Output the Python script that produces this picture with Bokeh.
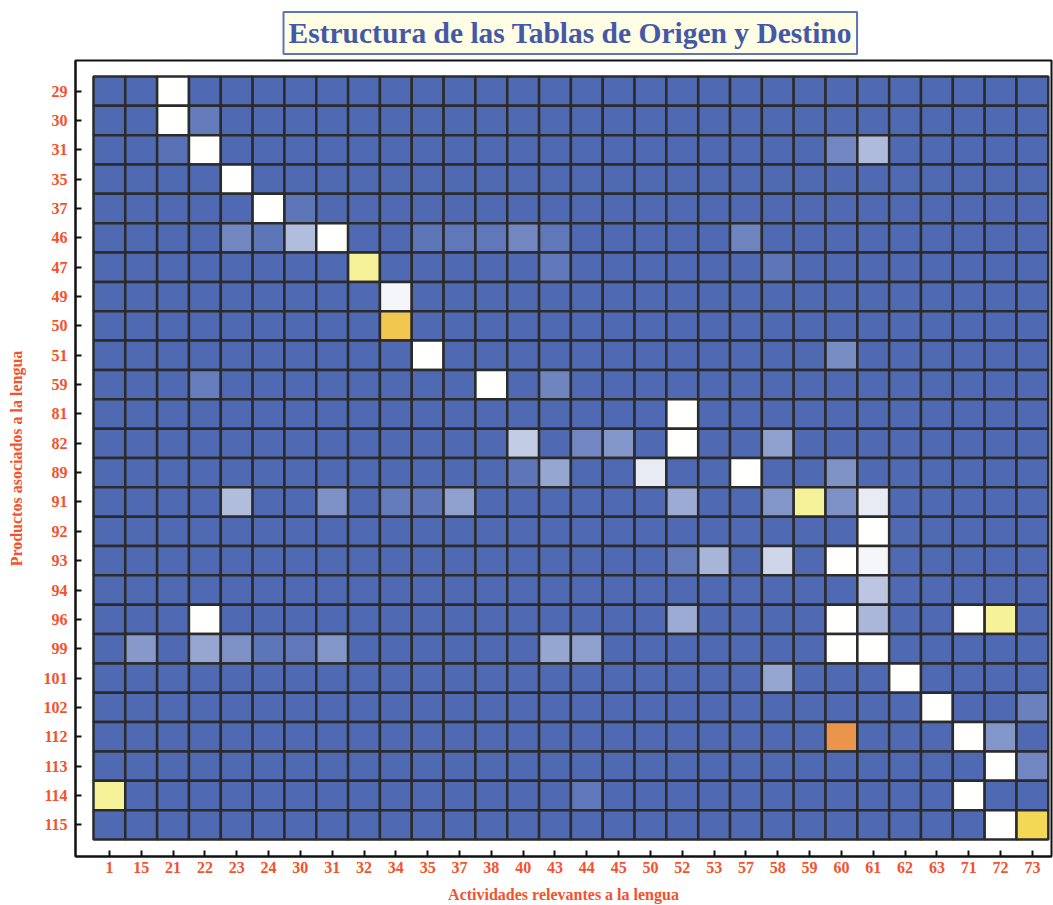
from bokeh.plotting import figure
from bokeh.models import (ColumnDataSource, LinearColorMapper, FixedTicker, Range1d, Title)
from bokeh.embed import file_html
from bokeh.resources import INLINE

# ---- data -------------------------------------------------------------
activities = ["1", "15", "21", "22", "23", "24", "30", "31", "32", "34", "35", "37", "38", "40",
              "43", "44", "45", "50", "52", "53", "57", "58", "59", "60", "61", "62", "63", "71", "72", "73"]
products = ["29", "30", "31", "35", "37", "46", "47", "49", "50", "51", "59", "81", "82", "89",
            "91", "92", "93", "94", "96", "99", "101", "102", "112", "113", "114", "115"]

# relative intensity of the non-background cells (product, activity, value 0..1)
cell_product = ["29", "30", "30", "31", "31", "31", "31", "35", "37", "37",
                "46", "46", "46", "46", "46", "46", "46", "46", "46", "46",
                "47", "47", "47", "49", "50", "51", "51", "59", "59", "59",
                "81", "82", "82", "82", "82", "82", "89", "89", "89", "89", "89",
                "91", "91", "91", "91", "91", "91", "91", "91", "91", "91",
                "92", "93", "93", "93", "93", "93", "94",
                "96", "96", "96", "96", "96", "96",
                "99", "99", "99", "99", "99", "99", "99", "99", "99", "99",
                "101", "101", "102", "102", "112", "112", "112", "113", "113",
                "114", "114", "114", "115", "115"]
cell_activity = ["21", "21", "22", "21", "22", "60", "61", "23", "24", "30",
                 "23", "24", "30", "31", "35", "37", "38", "40", "43", "57",
                 "32", "43", "58", "34", "34", "35", "60", "22", "38", "43",
                 "52", "40", "44", "45", "52", "58", "40", "43", "50", "57", "60",
                 "23", "31", "34", "35", "37", "52", "58", "59", "60", "61",
                 "61", "52", "53", "58", "60", "61", "61",
                 "22", "52", "60", "61", "71", "72",
                 "15", "22", "23", "24", "30", "31", "43", "44", "60", "61",
                 "58", "62", "63", "73", "60", "71", "72", "72", "73",
                 "1", "44", "71", "72", "73"]
cell_value = [0.50, 0.50, 0.06, 0.03, 0.50, 0.10, 0.27, 0.50, 0.50, 0.04,
              0.10, 0.04, 0.28, 0.50, 0.04, 0.05, 0.05, 0.10, 0.05, 0.09,
              0.62, 0.05, 0.04, 0.47, 0.82, 0.50, 0.12, 0.07, 0.50, 0.09,
              0.50, 0.33, 0.10, 0.15, 0.50, 0.18, 0.04, 0.20, 0.43, 0.50, 0.14,
              0.28, 0.13, 0.06, 0.04, 0.18, 0.22, 0.15, 0.62, 0.13, 0.43,
              0.50, 0.06, 0.25, 0.36, 0.50, 0.47, 0.31,
              0.50, 0.22, 0.50, 0.26, 0.50, 0.62,
              0.16, 0.20, 0.13, 0.04, 0.05, 0.15, 0.20, 0.18, 0.50, 0.50,
              0.20, 0.50, 0.50, 0.08, 0.95, 0.50, 0.15, 0.50, 0.10,
              0.62, 0.05, 0.50, 0.50, 0.74]

# ---- build full grid --------------------------------------------------
lookup = {(r, c): v for r, c, v in zip(cell_product, cell_activity, cell_value)}
xs, ys, vs = [], [], []
for ri, r in enumerate(products):
    for ci, c in enumerate(activities):
        xs.append(ci)
        ys.append(ri)
        vs.append(lookup.get((r, c), 0.0))
src = ColumnDataSource(dict(x=xs, y=ys, v=vs))

# colour scale: blue -> white -> pale yellow -> yellow -> orange
stops = [(0.0, (79, 106, 178)), (0.5, (255, 255, 255)), (0.62, (246, 242, 154)),
         (0.75, (242, 214, 80)), (0.85, (240, 192, 80)), (1.0, (232, 128, 74))]
palette = []
for i in range(256):
    t = i / 255
    for (a, ca), (b, cb) in zip(stops[:-1], stops[1:]):
        if a <= t <= b:
            f = (t - a) / (b - a)
            rgb = [round(ca[k] + f * (cb[k] - ca[k])) for k in range(3)]
            palette.append("#%02x%02x%02x" % tuple(rgb))
            break
mapper = LinearColorMapper(palette=palette, low=0, high=1)

# ---- figure -----------------------------------------------------------
W, H = 1053, 905
p = figure(width=W, height=H, output_backend="svg", toolbar_location=None,
           x_range=Range1d(-1.065, 29.6), y_range=Range1d(26.08, -1.044),
           min_border_left=75, min_border_right=2, min_border_top=60, min_border_bottom=47)

p.rect(x="x", y="y", width=1, height=1, source=src,
       fill_color={"field": "v", "transform": mapper},
       line_color="#2b2b2b", line_width=2.5)

SERIF = "Liberation Serif"
RED = "#f4512c"

p.title = Title(text="Estructura de las Tablas de Origen y Destino", align="left",
                text_font=SERIF, text_font_size="29.5px", text_font_style="bold",
                text_color="#4458a8", background_fill_color="#fffde4",
                border_line_color="#5f73b8", border_line_width=2, padding=5,
                offset=208, standoff=13)

p.xgrid.visible = False
p.ygrid.visible = False
p.outline_line_color = "#111111"
p.outline_line_width = 2
p.background_fill_color = "white"
p.border_fill_color = "white"

p.xaxis.ticker = FixedTicker(ticks=list(range(len(activities))))
p.xaxis.major_label_overrides = {i: a for i, a in enumerate(activities)}
p.yaxis.ticker = FixedTicker(ticks=list(range(len(products))))
p.yaxis.major_label_overrides = {i: r for i, r in enumerate(products)}
p.xaxis.axis_label = "Actividades relevantes a la lengua"
p.yaxis.axis_label = "Productos asociados a la lengua"

for ax in (p.xaxis[0], p.yaxis[0]):
    ax.axis_line_color = "#111111"
    ax.axis_line_width = 2
    ax.major_tick_line_color = "#111111"
    ax.major_tick_line_width = 2
    ax.major_tick_in = 6
    ax.major_tick_out = 0
    ax.minor_tick_line_color = None
    ax.major_label_text_font = SERIF
    ax.major_label_text_font_style = "bold"
    ax.major_label_text_font_size = "16px"
    ax.major_label_text_color = RED
    ax.axis_label_text_font = SERIF
    ax.axis_label_text_font_style = "bold"
    ax.axis_label_text_font_size = "16px"
    ax.axis_label_text_color = RED
p.xaxis.major_label_standoff = 5
p.xaxis.axis_label_standoff = 10
p.yaxis.major_label_standoff = 8
p.yaxis.axis_label_standoff = 16

open("out.html", "w").write(file_html(p, INLINE))
